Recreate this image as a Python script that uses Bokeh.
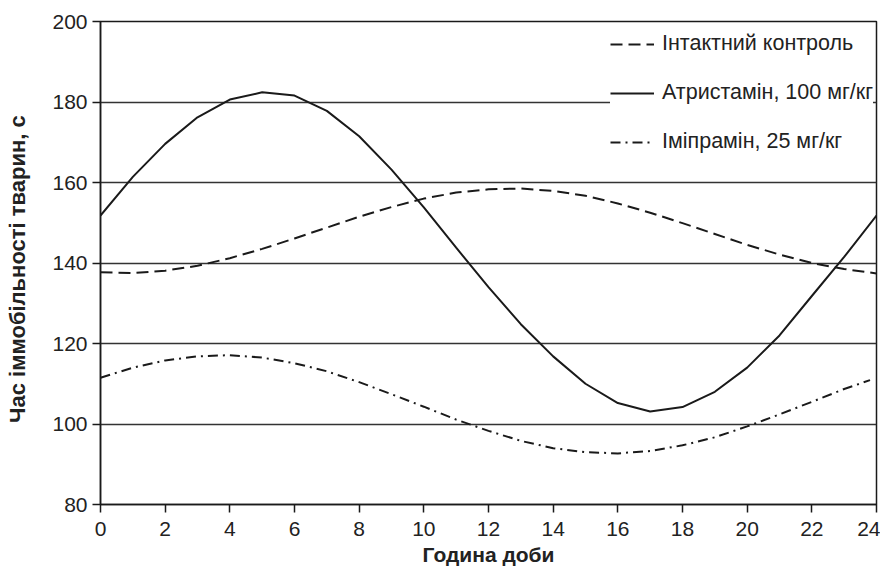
from bokeh.plotting import figure
from bokeh.embed import file_html
from bokeh.resources import INLINE
from bokeh.models import Legend, LegendItem, FixedTicker

hours = list(range(0, 25))
intact = [137.7, 137.5, 138.1, 139.3, 141.2, 143.5, 146.1, 148.8, 151.5, 153.9,
          156.0, 157.5, 158.3, 158.5, 157.9, 156.7, 154.8, 152.5, 149.9, 147.2,
          144.5, 142.1, 140.0, 138.5, 137.4]
atristamin = [151.8, 161.4, 169.6, 176.2, 180.6, 182.4, 181.6, 177.8, 171.5, 163.2,
              153.8, 143.8, 134.0, 124.8, 116.8, 110.0, 105.2, 103.1, 104.2, 108.0,
              114.0, 122.0, 131.8, 141.5, 151.8]
imipramine_h = hours[:24] + [23.8]
imipramine = [111.5, 114.0, 115.8, 116.8, 117.1, 116.5, 115.1, 113.1, 110.4, 107.4,
              104.3, 101.1, 98.3, 95.8, 94.0, 93.0, 92.7, 93.3, 94.7, 96.7,
              99.4, 102.4, 105.5, 108.7, 110.9]

labels = ["Інтактний контроль", "Атристамін, 100 мг/кг", "Іміпрамін, 25 мг/кг"]
x_ticks = list(range(0, 25, 2))
y_ticks = list(range(80, 201, 20))

ink = "#1a1a1a"
font = "Liberation Sans"

p = figure(width=880, height=568, x_range=(0, 24), y_range=(80, 200),
           output_backend="svg", toolbar_location=None,
           min_border_left=100, min_border_right=4, min_border_top=21, min_border_bottom=64)
p.background_fill_color = "white"
p.border_fill_color = "white"
p.outline_line_color = ink
p.outline_line_width = 1.5

p.xgrid.grid_line_color = None
p.ygrid.grid_line_color = "#333333"
p.ygrid.grid_line_width = 1.5
p.ygrid.ticker = FixedTicker(ticks=y_ticks)

p.xaxis.ticker = FixedTicker(ticks=x_ticks)
p.yaxis.ticker = FixedTicker(ticks=y_ticks)
for ax in (p.xaxis, p.yaxis):
    ax.axis_line_color = ink
    ax.axis_line_width = 1.5
    ax.major_tick_line_color = ink
    ax.major_tick_line_width = 1.5
    ax.major_tick_out = 8
    ax.major_tick_in = 0
    ax.minor_tick_line_color = None
    ax.major_label_text_font = font
    ax.major_label_text_font_size = "21px"
    ax.major_label_text_color = "#222222"
    ax.axis_label_text_font = font
    ax.axis_label_text_font_style = "bold"
    ax.axis_label_text_color = "#222222"

p.xaxis.axis_label = "Година доби"
p.yaxis.axis_label = "Час  іммобільності  тварин, с"
p.xaxis.axis_label_text_font_size = "21px"
p.yaxis.axis_label_text_font_size = "22px"
p.xaxis.major_label_standoff = 9
p.xaxis.axis_label_standoff = 4
p.yaxis.major_label_standoff = 5
p.yaxis.axis_label_standoff = 19

r1 = p.line(hours, intact, line_color=ink, line_width=2, line_dash="12 6")
r2 = p.line(hours, atristamin, line_color=ink, line_width=2)
r3 = p.line(imipramine_h, imipramine, line_color=ink, line_width=2, line_dash="10 5 2 5")

legend = Legend(items=[LegendItem(label=labels[0], renderers=[r1]),
                       LegendItem(label=labels[1], renderers=[r2]),
                       LegendItem(label=labels[2], renderers=[r3])],
                location=(510, 350))
legend.margin = 0
legend.padding = 5
legend.spacing = 24
legend.glyph_width = 44
legend.label_standoff = 8
legend.border_line_color = None
legend.background_fill_color = "white"
legend.background_fill_alpha = 1.0
legend.label_text_font = font
legend.label_text_font_size = "21.5px"
legend.label_text_color = "#222222"
p.add_layout(legend, "center")

open("out.html", "w").write(file_html(p, INLINE))
